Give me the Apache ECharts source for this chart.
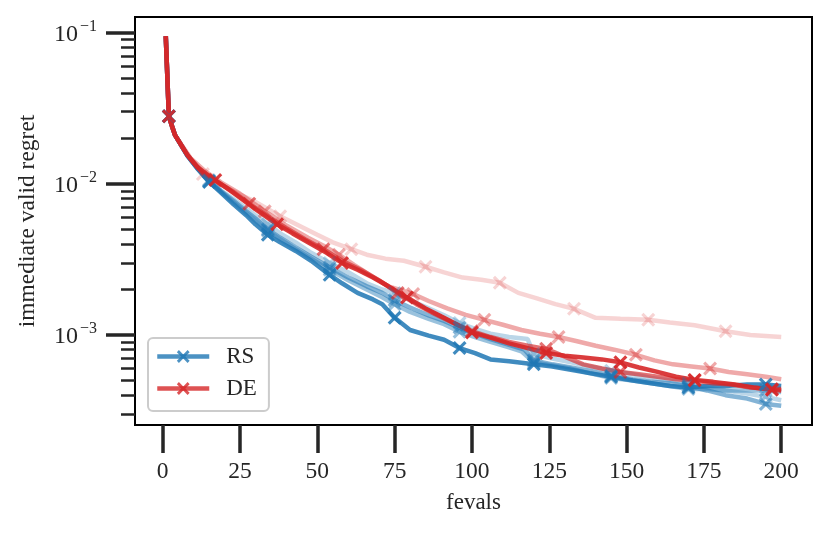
<!DOCTYPE html>
<html>
<head>
<meta charset="utf-8">
<script src="https://cdn.jsdelivr.net/npm/echarts@6/dist/echarts.min.js"></script>
<style>
  html, body { margin: 0; padding: 0; background: #fff; }
  #chart { width: 830px; height: 533px; }
</style>
</head>
<body>
<div id="chart"></div>
<script>
// tick positions
var xTicks = [0, 25, 50, 75, 100, 125, 150, 175, 200];
var yMajor = [1e-3, 1e-2, 1e-1];
var yMinor = [3e-4, 4e-4, 5e-4, 6e-4, 7e-4, 8e-4, 9e-4,
              2e-3, 3e-3, 4e-3, 5e-3, 6e-3, 7e-3, 8e-3, 9e-3,
              2e-2, 3e-2, 4e-2, 5e-2, 6e-2, 7e-2, 8e-2, 9e-2];

// RS runs: [fevals, regret]
var rsMarks = [2, 15, 34, 54, 75, 96, 120, 145, 170, 195];
var rs1 = [[1,0.095],[2,0.028],[3,0.024],[4,0.021],[6,0.018],[8,0.0154],[11,0.0128],[15,0.0103],[19,0.0087],[23,0.0073],[27,0.0062],[30,0.0054],[34,0.0046],[38,0.0041],[43,0.0036],[48,0.0031],[54,0.0025],[58,0.0022],[63,0.0019],[68,0.00172],[71,0.0016],[75,0.0013],[80,0.00108],[86,0.00099],[91,0.00093],[96,0.00082],[101,0.00076],[106,0.00069],[112,0.00067],[120,0.00064],[126,0.00062],[132,0.00059],[138,0.00056],[145,0.00053],[152,0.0005],[158,0.00048],[164,0.00046],[170,0.00045],[176,0.00046],[182,0.00046],[189,0.00047],[195,0.00047],[200,0.00046]];
var rs2 = [[1,0.095],[2,0.028],[4,0.021],[8,0.0153],[11,0.0128],[15,0.0104],[19,0.0089],[23,0.0077],[27,0.0066],[30,0.0059],[34,0.005],[38,0.0044],[43,0.0038],[48,0.0033],[54,0.0028],[60,0.0024],[66,0.0021],[71,0.0019],[75,0.0017],[80,0.00152],[86,0.00135],[91,0.00124],[96,0.00112],[101,0.00102],[106,0.00094],[112,0.00086],[117,0.0008],[120,0.00068],[126,0.00064],[132,0.00061],[138,0.00058],[145,0.00054],[152,0.00051],[158,0.00049],[164,0.00048],[170,0.00046],[176,0.00043],[182,0.0004],[189,0.00038],[195,0.00035],[200,0.00034]];
var rs3 = [[1,0.095],[2,0.028],[4,0.021],[8,0.0155],[11,0.013],[15,0.0106],[19,0.009],[23,0.0079],[27,0.0069],[30,0.0062],[34,0.0054],[38,0.0047],[43,0.0041],[48,0.0035],[54,0.003],[60,0.0026],[66,0.0022],[71,0.002],[75,0.0019],[80,0.0017],[86,0.0015],[91,0.00135],[96,0.0012],[101,0.0011],[106,0.00102],[112,0.00097],[118,0.00094],[120,0.00075],[126,0.0007],[132,0.00066],[138,0.00062],[145,0.00058],[152,0.00055],[158,0.00052],[164,0.0005],[170,0.00048],[176,0.00045],[182,0.00043],[189,0.00041],[195,0.00039],[200,0.00037]];
var rs4 = [[1,0.095],[2,0.028],[4,0.021],[8,0.0154],[11,0.0129],[15,0.0105],[19,0.0088],[23,0.0075],[27,0.0064],[30,0.0057],[34,0.0049],[38,0.0043],[43,0.0037],[48,0.0032],[54,0.0027],[60,0.0023],[66,0.002],[71,0.00178],[75,0.0016],[80,0.00142],[86,0.00128],[91,0.00118],[96,0.00105],[101,0.00097],[106,0.0009],[112,0.00083],[116,0.00078],[120,0.00066],[126,0.00063],[132,0.0006],[138,0.00056],[145,0.00052],[152,0.0005],[158,0.00048],[164,0.00046],[170,0.00044],[176,0.00044],[182,0.00043],[189,0.00043],[195,0.00043],[200,0.00042]];

// DE runs
var de1Marks = [2, 17, 37, 58, 79, 100, 124, 148, 172, 197];
var de1 = [[1,0.095],[2,0.028],[3,0.024],[4,0.021],[6,0.018],[8,0.0155],[11,0.013],[14,0.0117],[17,0.0106],[21,0.0093],[25,0.0081],[30,0.0068],[37,0.0054],[42,0.0047],[48,0.004],[53,0.0035],[58,0.003],[63,0.0027],[68,0.0024],[73,0.0021],[79,0.00177],[85,0.0015],[90,0.00133],[95,0.00118],[100,0.00104],[106,0.00096],[112,0.00088],[118,0.00082],[124,0.00076],[130,0.00073],[136,0.00071],[142,0.00069],[148,0.00066],[154,0.00061],[160,0.00057],[166,0.00053],[172,0.000505],[178,0.00049],[185,0.00047],[191,0.00045],[197,0.000435],[200,0.00043]];
var de2Marks = [33, 57, 81, 104, 128, 153, 177];
var de2 = [[1,0.095],[2,0.028],[4,0.021],[9,0.0148],[14,0.012],[19,0.0102],[25,0.0086],[33,0.0066],[40,0.0053],[47,0.0044],[52,0.0039],[57,0.0034],[62,0.0029],[67,0.0025],[73,0.0021],[81,0.00187],[86,0.00168],[92,0.0015],[98,0.00136],[104,0.00126],[110,0.00117],[116,0.00108],[122,0.00102],[128,0.00097],[134,0.00091],[140,0.00085],[146,0.0008],[153,0.00074],[159,0.00068],[165,0.00064],[171,0.00062],[177,0.0006],[183,0.00057],[189,0.00055],[195,0.00053],[200,0.00051]];
var de3Marks = [13, 38, 61, 85, 109, 133, 157, 182];
var de3 = [[1,0.095],[2,0.028],[4,0.021],[8,0.0155],[13,0.0116],[18,0.0101],[24,0.0087],[30,0.0076],[38,0.0061],[44,0.0053],[50,0.0046],[55,0.0041],[61,0.0037],[66,0.0034],[72,0.0032],[78,0.0031],[85,0.00283],[91,0.0026],[97,0.0024],[103,0.00232],[109,0.00222],[115,0.0019],[121,0.00175],[127,0.0016],[133,0.00149],[140,0.0013],[148,0.00128],[157,0.00126],[164,0.00121],[172,0.00116],[182,0.00106],[190,0.001],[200,0.00097]];
var de4Marks = [28, 52, 76, 100, 124, 148, 172, 197];
var de4 = [[1,0.095],[2,0.028],[4,0.021],[8,0.0155],[13,0.0118],[18,0.0102],[23,0.0088],[28,0.0074],[34,0.0061],[40,0.0051],[46,0.0043],[52,0.0037],[58,0.0031],[64,0.0027],[70,0.0023],[76,0.0019],[82,0.0016],[88,0.00138],[94,0.0012],[100,0.00106],[106,0.00097],[112,0.0009],[118,0.00085],[124,0.00081],[130,0.00072],[136,0.00064],[142,0.0006],[148,0.00057],[154,0.00055],[160,0.00053],[166,0.00051],[172,0.0005],[178,0.00048],[184,0.00047],[190,0.00045],[197,0.00044],[200,0.00044]];

var BLUE = '#1f77b4';
var RED = '#d62728';
var TXT = '#262626';
var FONT = 'Liberation Serif';
var CROSS = 'path://M0,1.6L1.6,0L5,3.4L8.4,0L10,1.6L6.6,5L10,8.4L8.4,10L5,6.6L1.6,10L0,8.4L3.4,5Z';

function run(name, color, pts, marks, alpha) {
    return {
        name: name,
        type: 'line',
        symbol: CROSS,
        symbolSize: 14,
        showAllSymbol: true,
        data: pts.map(function (p) {
            return { value: p, symbol: marks.indexOf(p[0]) >= 0 ? CROSS : 'none' };
        }),
        lineStyle: { color: color, width: 4.5, opacity: alpha },
        itemStyle: { color: color, opacity: alpha },
        emphasis: { disabled: true },
        animation: false
    };
}

var chart = echarts.init(document.getElementById('chart'));

var option = {
    backgroundColor: '#fff',
    textStyle: { fontFamily: FONT },
    grid: {
        left: 135, right: 18, top: 17, bottom: 108,
        show: true, borderColor: '#000', borderWidth: 2
    },
    legend: {
        data: ['RS', 'DE'],
        orient: 'vertical',
        left: 148, top: 338,
        itemWidth: 52, itemHeight: 16, itemGap: 9,
        padding: [7, 12, 11, 7],
        borderColor: '#cccccc', borderWidth: 2, borderRadius: 5,
        backgroundColor: 'rgba(255,255,255,0.8)',
        lineStyle: { opacity: 0.8, width: 4.5 },
        itemStyle: { opacity: 0.8 },
        textStyle: { fontFamily: FONT, fontSize: 23, color: TXT, padding: [0, 0, 0, 12] }
    },
    xAxis: {
        type: 'value',
        min: -8.95, max: 209.95,
        name: 'fevals',
        nameLocation: 'middle',
        nameGap: 66,
        nameTextStyle: { fontFamily: FONT, fontSize: 23, color: TXT },
        axisLine: { onZero: false, lineStyle: { color: '#000', width: 2 } },
        axisTick: { length: 28, lineStyle: { color: TXT, width: 3.5 }, customValues: xTicks },
        axisLabel: { fontFamily: FONT, fontSize: 23.5, color: TXT, margin: 35, customValues: xTicks },
        splitLine: { show: false }
    },
    yAxis: [{
        type: 'log',
        logBase: 10,
        min: 2.54e-4, max: 0.127,
        name: 'immediate valid regret',
        nameLocation: 'middle',
        nameGap: 95,
        nameTextStyle: { fontFamily: FONT, fontSize: 23.5, color: TXT },
        axisLine: { onZero: false, lineStyle: { color: '#000', width: 2 } },
        axisTick: { length: 29, lineStyle: { color: TXT, width: 3.5 }, customValues: yMajor },
        axisLabel: {
            margin: 38,
            customValues: yMajor,
            formatter: function (v) {
                return '{b|10}{s|\u2212' + (-Math.round(Math.log10(v))) + '}';
            },
            rich: {
                b: { fontFamily: FONT, fontSize: 24, color: TXT, verticalAlign: 'bottom' },
                s: { fontFamily: FONT, fontSize: 16, color: TXT, verticalAlign: 'bottom', padding: [0, 0, 12, 2] }
            }
        },
        splitLine: { show: false }
    }, {
        type: 'log',
        logBase: 10,
        min: 2.54e-4, max: 0.127,
        position: 'left',
        axisLine: { show: false, onZero: false },
        axisTick: { length: 14, lineStyle: { color: TXT, width: 2.5 }, customValues: yMinor },
        axisLabel: { show: false },
        splitLine: { show: false }
    }],
    series: [
        run('RS', BLUE, rs3, rsMarks, 0.3),
        run('RS', BLUE, rs4, rsMarks, 0.45),
        run('RS', BLUE, rs2, rsMarks, 0.55),
        run('RS', BLUE, rs1, rsMarks, 0.85),
        run('DE', RED, de3, de3Marks, 0.2),
        run('DE', RED, de2, de2Marks, 0.4),
        run('DE', RED, de4, de4Marks, 0.65),
        run('DE', RED, de1, de1Marks, 0.9)
    ]
};

chart.setOption(option);
</script>
</body>
</html>
